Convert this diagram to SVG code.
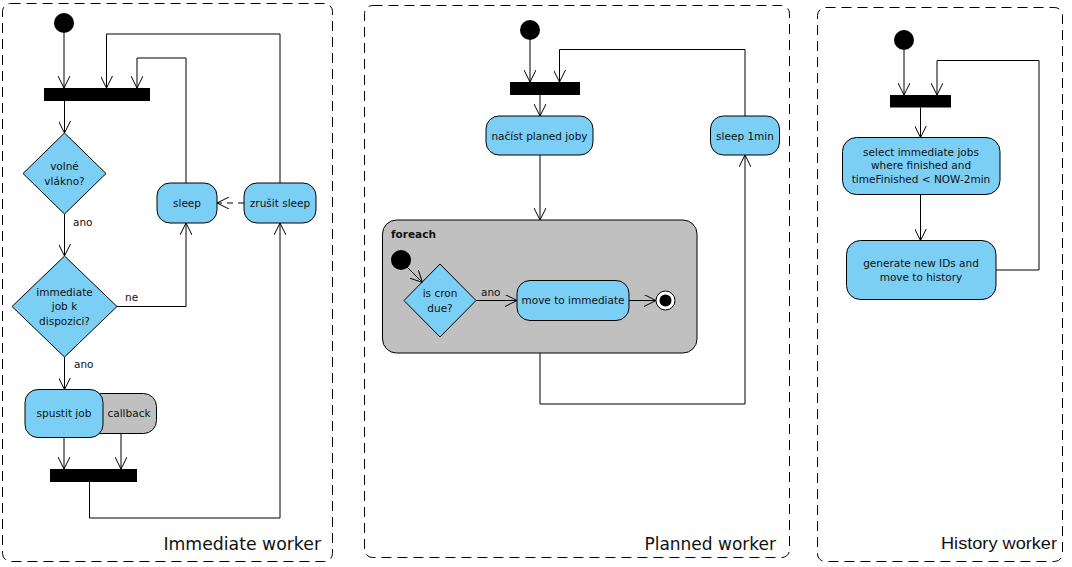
<svg xmlns="http://www.w3.org/2000/svg" width="1072" height="567" viewBox="0 0 1072 567">
  <style>
    .panel { fill: none; stroke: #000; stroke-width: 1; stroke-dasharray: 10 6; }
    .act { fill: #7ccff4; stroke: #000; stroke-width: 1; }
    .grey { fill: #c0c0c0; stroke: #000; stroke-width: 1; }
    .bar { fill: #000; }
    .dot { fill: #000; }
    .edge { fill: none; stroke: #000; stroke-width: 1; }
    .arr { marker-end: url(#open); }
    .dash { stroke-dasharray: 6 5; }
    text { font-family: "DejaVu Sans", "Liberation Sans", sans-serif; font-size: 10.5px; fill: #111; }
    .c { text-anchor: middle; }
    .title { font-size: 17px; text-anchor: end; }
    .bold { font-weight: bold; }
  </style>
  <defs>
    <marker id="open" viewBox="0 0 12 12" refX="12" refY="6" markerWidth="12" markerHeight="12" markerUnits="userSpaceOnUse" orient="auto">
      <path d="M0,0 L12,6 L0,12" fill="none" stroke="#000" stroke-width="1"/>
    </marker>
  </defs>

  <!-- swimlane frames -->
  <g id="immediate-worker">
    <rect class="panel" x="2.5" y="3.5" width="330" height="558" rx="8"/>
    <text class="title" x="321" y="550" style="font-size:17.3px">Immediate worker</text>
  </g>
  <g id="planned-worker">
    <rect class="panel" x="364.5" y="5.5" width="425" height="552" rx="8"/>
    <text class="title" x="776" y="550" style="font-size:17px">Planned worker</text>
  </g>
  <g id="history-worker">
    <rect class="panel" x="817.5" y="7.5" width="245" height="554" rx="8"/>
    <text class="title" x="1057" y="548.5" textLength="116" lengthAdjust="spacingAndGlyphs" style="font-family:'Liberation Sans', Arial, sans-serif;font-size:16px">History worker</text>
  </g>

  <!-- ===== Immediate worker nodes ===== -->
  <g id="iw-start"><circle class="dot" cx="64" cy="23" r="10"/></g>
  <g id="iw-fork"><rect class="bar" x="44" y="88" width="106" height="13"/></g>
  <g id="iw-free-thread">
    <polygon class="act" points="64.5,133 106,173.5 64.5,214 23,173.5"/>
    <text class="c" x="64.5" y="170">volné</text>
    <text class="c" x="64.5" y="185">vlákno?</text>
  </g>
  <g id="iw-job-available">
    <polygon class="act" points="64.5,256 117,306.5 64.5,357 12,306.5"/>
    <text class="c" x="64.5" y="296">immediate</text>
    <text class="c" x="64.5" y="310">job k</text>
    <text class="c" x="64.5" y="325">dispozici?</text>
  </g>
  <g id="iw-sleep">
    <rect class="act" x="157" y="183" width="60" height="40" rx="13"/>
    <text class="c" x="187" y="207">sleep</text>
  </g>
  <g id="iw-cancel-sleep">
    <rect class="act" x="244" y="183" width="72" height="40" rx="13"/>
    <text class="c" x="280" y="207">zrušit sleep</text>
  </g>
  <g id="iw-callback">
    <rect class="grey" x="88" y="393.5" width="68.5" height="40" rx="13"/>
    <text class="c" x="129" y="417">callback</text>
  </g>
  <g id="iw-run-job">
    <rect class="act" x="25" y="389.5" width="78" height="48" rx="13"/>
    <text class="c" x="64" y="417">spustit job</text>
  </g>
  <g id="iw-join"><rect class="bar" x="50" y="469" width="87" height="13"/></g>

  <!-- ===== Planned worker nodes ===== -->
  <g id="pw-start"><circle class="dot" cx="530" cy="30" r="10"/></g>
  <g id="pw-fork"><rect class="bar" x="510" y="82" width="70" height="13"/></g>
  <g id="pw-load">
    <rect class="act" x="486" y="116" width="107" height="39" rx="13"/>
    <text class="c" x="539.5" y="139.5">načíst planed joby</text>
  </g>
  <g id="pw-sleep">
    <rect class="act" x="710.5" y="116" width="69" height="39" rx="13"/>
    <text class="c" x="745" y="139.5">sleep 1min</text>
  </g>
  <g id="pw-foreach">
    <rect class="grey" x="382.5" y="220" width="314.5" height="133" rx="14"/>
    <text class="bold" x="391" y="238">foreach</text>
    <circle class="dot" cx="401" cy="260" r="10"/>
    <polygon class="act" points="440,264 476,300.5 440,337 404,300.5"/>
    <text class="c" x="440" y="297">is cron</text>
    <text class="c" x="440" y="312">due?</text>
    <rect class="act" x="517" y="280.5" width="112" height="40" rx="13"/>
    <text class="c" x="573" y="304">move to immediate</text>
    <circle cx="665.5" cy="300.5" r="9.5" fill="#fff" stroke="#000"/>
    <circle class="dot" cx="665.5" cy="300.5" r="6"/>
  </g>

  <!-- ===== History worker nodes ===== -->
  <g id="hw-start"><circle class="dot" cx="904" cy="40" r="10"/></g>
  <g id="hw-fork"><rect class="bar" x="890" y="95" width="61" height="12.5"/></g>
  <g id="hw-select">
    <rect class="act" x="842.5" y="137.5" width="157.5" height="57" rx="14"/>
    <text class="c" x="921" y="155.5">select immediate jobs</text>
    <text class="c" x="921" y="169">where finished and</text>
    <text class="c" x="921" y="183">timeFinished &lt; NOW-2min</text>
  </g>
  <g id="hw-generate">
    <rect class="act" x="846.5" y="240.5" width="149.5" height="59" rx="14"/>
    <text class="c" x="921" y="267">generate new IDs and</text>
    <text class="c" x="921" y="280.5">move to history</text>
  </g>

  <!-- ===== connectors ===== -->
  <g id="connectors">
    <!-- immediate worker -->
    <path class="edge arr" d="M64,33 V88"/>
    <path class="edge arr" d="M280,183 V34 H106.5 V88"/>
    <path class="edge arr" d="M186,183 V58 H137 V88"/>
    <path class="edge arr" d="M64.5,101 V133"/>
    <path class="edge arr" d="M64.5,214 V256"/>
    <text x="73" y="226">ano</text>
    <path class="edge arr" d="M117,306.5 H186 V223"/>
    <text x="125" y="301">ne</text>
    <path class="edge arr dash" d="M244,203 H217"/>
    <path class="edge arr" d="M64.5,357 V389.5"/>
    <text x="74" y="368">ano</text>
    <path class="edge arr" d="M64,437.5 V469"/>
    <path class="edge arr" d="M121,433.5 V469"/>
    <path class="edge arr" d="M89.5,482 V518 H280 V223"/>

    <!-- planned worker -->
    <path class="edge arr" d="M530,40 V82"/>
    <path class="edge arr" d="M745,116 V49.5 H559.5 V82"/>
    <path class="edge arr" d="M540,95 V116"/>
    <path class="edge arr" d="M540,155 V220"/>
    <path class="edge arr" d="M407,267 L422.5,282.5"/>
    <path class="edge arr" d="M476,300.5 H517"/>
    <text x="481" y="296">ano</text>
    <path class="edge arr" d="M629,300.5 H656"/>
    <path class="edge arr" d="M540,353 V404 H745 V155"/>

    <!-- history worker -->
    <path class="edge arr" d="M904,50 V95"/>
    <path class="edge arr" d="M996,270 H1039 V60.5 H937 V95"/>
    <path class="edge arr" d="M920.5,107.5 V137.5"/>
    <path class="edge arr" d="M920.5,194.5 V240.5"/>
  </g>
</svg>
